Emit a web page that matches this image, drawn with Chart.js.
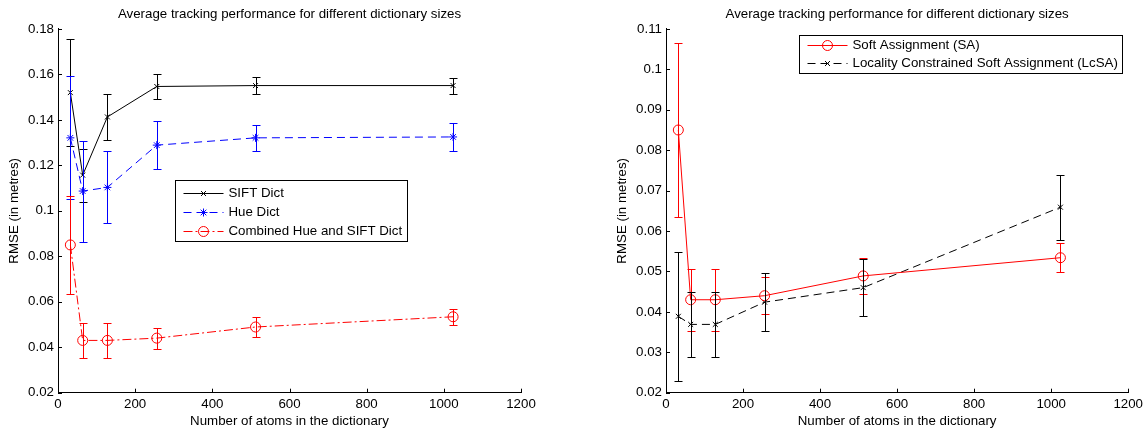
<!DOCTYPE html>
<html>
<head>
<meta charset="utf-8">
<script src="https://cdn.jsdelivr.net/npm/chart.js@4/dist/chart.umd.min.js"></script>
<style>
  html, body { margin: 0; padding: 0; background: #fff; }
  #wrap { position: relative; width: 1147px; height: 429px; }
  .box { position: absolute; top: 0; height: 429px; }
</style>
</head>
<body>
<div id="wrap">
  <div class="box" style="left:0;width:573px"><canvas id="left"></canvas></div>
  <div class="box" style="left:573px;width:574px"><canvas id="right"></canvas></div>
</div>
<script>
// dictionary sizes (x axis) and RMSE means / error bar half-lengths
const dictSizes = [32, 64, 128, 256, 512, 1024];
const siftMean = [0.152, 0.1157, 0.1413, 0.1547, 0.1551, 0.1551];
const siftErr  = [0.0235, 0.0117, 0.0103, 0.0057, 0.0037, 0.0035];
const hueMean  = [0.1321, 0.1087, 0.1103, 0.1289, 0.1321, 0.1325];
const hueErr   = [0.027, 0.0222, 0.0158, 0.0106, 0.0058, 0.0063];
const saMean   = [0.085, 0.043, 0.043, 0.044, 0.0489, 0.0534];
const saErr    = [0.0216, 0.0077, 0.0077, 0.0046, 0.0045, 0.0036];
const lcsaMean = [0.0389, 0.0369, 0.0369, 0.0424, 0.046, 0.0659];
const lcsaErr  = [0.016, 0.0081, 0.0081, 0.0071, 0.007, 0.008];

const xTicks = [0, 1200, 200];          // min, max, step
const leftY  = [0.02, 0.18, 0.02];
const rightY = [0.02, 0.11, 0.01];

const titleText = 'Average tracking performance for different dictionary sizes';
const xLabel = 'Number of atoms in the dictionary';
const yLabel = 'RMSE (in metres)';

const FONT = '"Liberation Sans", Arial, Helvetica, sans-serif';
const FS = 13.3;
Chart.defaults.font.family = FONT;
Chart.defaults.font.size = FS;
Chart.defaults.color = '#000';

function pts(ys) {
  return dictSizes.map((x, i) => ({ x: x, y: ys[i] }));
}

// vertical error bars with caps
const errorBars = {
  id: 'errorBars',
  afterDatasetsDraw(chart) {
    const ctx = chart.ctx, xs = chart.scales.x, ys = chart.scales.y;
    chart.data.datasets.forEach(ds => {
      if (!ds.yErr) return;
      ctx.save();
      ctx.strokeStyle = ds.borderColor;
      ctx.lineWidth = 1;
      ds.data.forEach((p, i) => {
        const e = ds.yErr[i];
        const x = Math.round(xs.getPixelForValue(p.x)) + 0.5;
        const top = Math.round(ys.getPixelForValue(p.y + e)) + 0.5;
        const bot = Math.round(ys.getPixelForValue(p.y - e)) + 0.5;
        ctx.beginPath();
        ctx.moveTo(x, top); ctx.lineTo(x, bot);
        ctx.moveTo(x - 4, top); ctx.lineTo(x + 4, top);
        ctx.moveTo(x - 4, bot); ctx.lineTo(x + 4, bot);
        ctx.stroke();
      });
      ctx.restore();
    });
  }
};

// matlab style ticks pointing into the plot
const innerTicks = {
  id: 'innerTicks',
  afterDraw(chart) {
    const ctx = chart.ctx, a = chart.chartArea;
    const xs = chart.scales.x, ys = chart.scales.y;
    ctx.save();
    ctx.strokeStyle = '#000';
    ctx.lineWidth = 1;
    ctx.beginPath();
    xs.ticks.forEach(t => {
      const px = Math.round(xs.getPixelForValue(t.value)) + 0.5;
      ctx.moveTo(px, a.bottom); ctx.lineTo(px, a.bottom - 4);
    });
    ys.ticks.forEach(t => {
      const py = Math.round(ys.getPixelForValue(t.value)) + 0.5;
      ctx.moveTo(a.left, py); ctx.lineTo(a.left + 4, py);
    });
    ctx.stroke();
    ctx.restore();
  }
};

// boxed legend placed inside the axes
const boxLegend = {
  id: 'boxLegend',
  afterDraw(chart, args, o) {
    const ctx = chart.ctx, sets = chart.data.datasets;
    ctx.save();
    ctx.font = FS + 'px ' + FONT;
    const tw = Math.max(...sets.map(d => ctx.measureText(d.label).width));
    const w = Math.round(53 + tw + 5);
    const h = Math.round(o.padTop + o.padBottom + o.rowH * (sets.length - 1));
    const L = Math.round(o.left) + 0.5, T = Math.round(o.top) + 0.5;
    ctx.fillStyle = '#fff';
    ctx.fillRect(L, T, w, h);
    ctx.strokeStyle = '#000';
    ctx.lineWidth = 1;
    ctx.strokeRect(L, T, w, h);
    sets.forEach((d, i) => {
      const y = Math.round(o.top + o.padTop + i * o.rowH) + 0.5;
      const x0 = L + 8, x1 = x0 + 40;
      ctx.strokeStyle = d.borderColor;
      ctx.setLineDash(d.borderDash || []);
      ctx.beginPath(); ctx.moveTo(x0, y); ctx.lineTo(x1, y); ctx.stroke();
      ctx.setLineDash([]);
      ctx.fillStyle = 'rgba(0,0,0,0)';
      Chart.helpers.drawPoint(ctx, { pointStyle: d.pointStyle, radius: d.pointRadius, borderWidth: 1, rotation: 0 }, (x0 + x1) / 2, y);
      ctx.fillStyle = '#000';
      ctx.textBaseline = 'middle';
      ctx.textAlign = 'left';
      ctx.fillText(d.label, x1 + 5, y);
    });
    ctx.restore();
  }
};

function series(label, mean, err, color, dash, style, r) {
  return {
    label: label, data: pts(mean), yErr: err,
    borderColor: color, borderWidth: 1, borderDash: dash,
    pointStyle: style, pointRadius: r, pointBorderColor: color,
    pointBackgroundColor: 'rgba(0,0,0,0)', pointBorderWidth: 1,
    fill: false, tension: 0
  };
}

function makeOptions(yr, padL, padR, legend) {
  return {
    responsive: true, maintainAspectRatio: false, animation: false,
    devicePixelRatio: 1,
    layout: { padding: { left: padL, right: padR, top: 0, bottom: 0 } },
    plugins: {
      legend: { display: false },
      tooltip: { enabled: false },
      title: { display: true, text: titleText, fullSize: false,
               font: { size: FS, weight: 'normal' }, color: '#000',
               padding: { top: 6, bottom: 7 } },
      boxLegend: legend
    },
    scales: {
      x: {
        type: 'linear', min: xTicks[0], max: xTicks[1],
        ticks: { stepSize: xTicks[2], padding: 4, color: '#000', font: { size: FS },
                 callback: v => String(v) },
        grid: { display: false, drawTicks: false },
        border: { display: true, color: '#000', width: 1 },
        title: { display: true, text: xLabel, color: '#000', font: { size: FS }, padding: { top: 0, bottom: 0 } },
        afterFit(s) { s.height = 36.3; }
      },
      y: {
        type: 'linear', min: yr[0], max: yr[1],
        ticks: { stepSize: yr[2], padding: 4, color: '#000', font: { size: FS },
                 callback: v => parseFloat(v.toFixed(2)).toString() },
        grid: { display: false, drawTicks: false },
        border: { display: true, color: '#000', width: 1 },
        title: { display: true, text: yLabel, color: '#000', font: { size: FS }, padding: { top: 6, bottom: 0 } },
        afterFit(s) { s.width = 58; }
      }
    }
  };
}

new Chart('left', {
  type: 'line',
  data: { datasets: [
    series('SIFT Dict', siftMean, siftErr, '#000000', [], 'crossRot', 3.5),
    series('Hue Dict', hueMean, hueErr, '#0000ff', [8, 5], 'star', 4),
    series('Combined Hue and SIFT Dict', saMean, saErr, '#ff0000', [9, 3, 2, 3], 'circle', 5)
  ] },
  options: makeOptions(leftY, 0, 52, { left: 175, top: 180, padTop: 12.7, padBottom: 10, rowH: 19.2 }),
  plugins: [errorBars, innerTicks, boxLegend]
});

new Chart('right', {
  type: 'line',
  data: { datasets: [
    series('Soft Assignment (SA)', saMean, saErr, '#ff0000', [], 'circle', 5),
    series('Locality Constrained Soft Assignment (LcSA)', lcsaMean, lcsaErr, '#000000', [8, 5], 'crossRot', 3.5)
  ] },
  options: makeOptions(rightY, 35, 18.3, { left: 226.3, top: 34.7, padTop: 10.6, padBottom: 9.6, rowH: 17.4 }),
  plugins: [errorBars, innerTicks, boxLegend]
});
</script>
</body>
</html>
